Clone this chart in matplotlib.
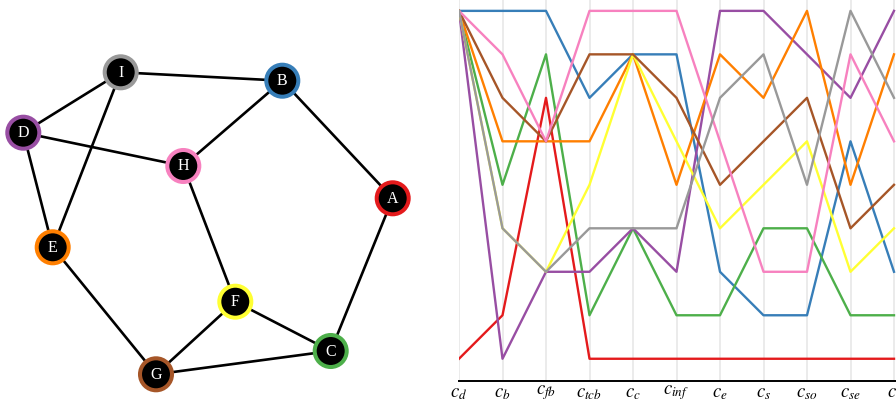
import matplotlib
matplotlib.use("Agg")
import matplotlib.pyplot as plt
from matplotlib.patches import Circle

# graph (left panel)
nodes = ["A", "B", "C", "D", "E", "F", "G", "H", "I"]
node_x = [392.7, 282.3, 330.7, 23.3, 52.7, 235.3, 156.0, 183.3, 120.7]
node_y = [198.3, 80.7, 351.0, 132.7, 247.3, 301.7, 374.3, 166.0, 72.3]
edges = [("I", "B"), ("I", "D"), ("I", "E"), ("D", "H"), ("D", "E"), ("B", "H"),
         ("B", "A"), ("H", "F"), ("A", "C"), ("F", "C"), ("F", "G"), ("G", "C"),
         ("E", "G")]
colors = ["#e41a1c", "#377eb8", "#4daf4a", "#984ea3", "#ff7f00",
          "#ffff33", "#a65628", "#f781bf", "#999999"]

# rankings per centrality measure (right panel)
measures = [r"$c_d$", r"$c_b$", r"$c_{fb}$", r"$c_{tcb}$", r"$c_c$", r"$c_{inf}$",
            r"$c_e$", r"$c_s$", r"$c_{so}$", r"$c_{se}$", r"$c_t$"]
rank_A = [9, 8, 3, 9, 9, 9, 9, 9, 9, 9, 9]
rank_B = [1, 1, 1, 3, 2, 2, 7, 8, 8, 4, 7]
rank_C = [1, 5, 2, 8, 6, 8, 8, 6, 6, 8, 8]
rank_D = [1, 9, 7, 7, 6, 7, 1, 1, 2, 3, 1]
rank_E = [1, 4, 4, 4, 2, 5, 2, 3, 1, 5, 2]
rank_F = [1, 6, 7, 5, 2, 4, 6, 5, 4, 7, 6]
rank_G = [1, 3, 4, 2, 2, 3, 5, 4, 3, 6, 5]
rank_H = [1, 2, 4, 1, 1, 1, 4, 7, 7, 2, 4]
rank_I = [1, 6, 7, 6, 6, 6, 3, 2, 5, 1, 3]
ranks = [rank_A, rank_B, rank_C, rank_D, rank_E, rank_F, rank_G, rank_H, rank_I]

plt.rcParams["mathtext.fontset"] = "stix"

W, H = 896, 401
fig = plt.figure(figsize=(W / 100, H / 100), dpi=100)

# left: network drawing in pixel units
ax_g = fig.add_axes([0, 0, 440 / W, 1])
ax_g.set_xlim(0, 440)
ax_g.set_ylim(H, 0)
ax_g.axis("off")
pos = {n: (x, y) for n, x, y in zip(nodes, node_x, node_y)}
for a, b in edges:
    ax_g.plot([pos[a][0], pos[b][0]], [pos[a][1], pos[b][1]],
              color="black", lw=1.9, zorder=1, solid_capstyle="butt")
for n, c in zip(nodes, colors):
    ax_g.add_patch(Circle(pos[n], 16.0, facecolor="black", edgecolor=c,
                          lw=2.9, zorder=2))
    ax_g.text(pos[n][0], pos[n][1] + 0.5, n, color="white", ha="center",
              va="center", fontsize=11.5, family="Liberation Serif", zorder=3)

# right: parallel coordinates of ranks
x0 = 459
step = 43.5
xmax = 10.5
y_top = 0.75
y_bot = 9.5
ax = fig.add_axes([x0 / W, (H - 380.5) / H, xmax * step / W, 380.5 / H])
xs = list(range(len(measures)))
for r, c in zip(ranks, colors):
    ax.plot(xs, r, color=c, lw=1.7, zorder=3)
ax.set_xlim(0, xmax)
ax.set_ylim(y_bot, y_top)
ax.set_xticks(xs)
ax.set_xticklabels(measures, fontsize=13.5)
ax.set_yticks([])
ax.grid(axis="x", color="#e8e8e8", lw=1.2, zorder=0)
ax.tick_params(axis="x", length=0, pad=1.5)
for s in ["top", "right", "left"]:
    ax.spines[s].set_visible(False)
ax.spines["bottom"].set_linewidth(1.4)

fig.savefig("out.png", dpi=100)
